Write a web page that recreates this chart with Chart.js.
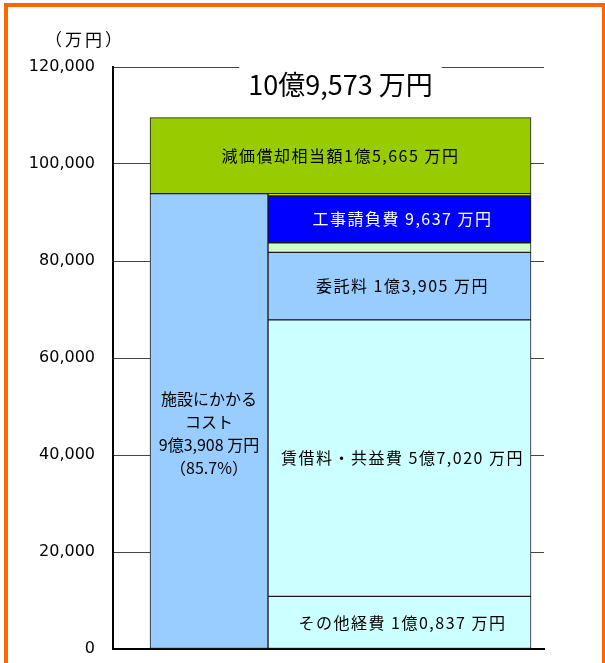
<!DOCTYPE html>
<html>
<head>
<meta charset="utf-8">
<script src="https://cdn.jsdelivr.net/npm/chart.js@4.4.0/dist/chart.umd.min.js"></script>
<style>
  html, body { margin: 0; padding: 0; background: #fff; overflow: hidden; }
  #wrap { position: relative; width: 605px; height: 663px; }
  #frame { position: absolute; left: 4px; top: 3px; width: 601px; height: 700px; box-sizing: border-box;
           border: 4px solid #FF6600; border-right-width: 3px; border-bottom: none; pointer-events: none; }
</style>
</head>
<body>
<div id="wrap">
  <canvas id="costChart" width="605" height="663"></canvas>
  <div id="frame"></div>
</div>
<script>
// 単位：万円
var unitLabel = '（万円）';
var yTicks = [0, 20000, 40000, 60000, 80000, 100000, 120000];

// 施設にかかるコストの内訳（下から順に）
var facilityItems = ['その他経費', '賃借料・共益費', '委託料', '', '工事請負費', ''];
var facilityValues = [10837, 57020, 13905, 2000, 9637, 509];
var facilityTitle = ['施設にかかる', 'コスト'];

var depreciationItem = '減価償却相当額';
var depreciationValue = 15665;

// styles
var itemColors = ['#CCFFFF', '#CCFFFF', '#99CCFF', '#CCFFCC', '#0000FF', '#FFFF00'];
var itemTextColors = ['#000', '#000', '#000', '#000', '#FFF', '#000'];
var jpFont = "'Noto Sans CJK JP', 'Noto Sans', sans-serif";

// column layout, in x-axis units (x axis runs 0..X_MAX)
var X_MAX = 431;
var colLeft = { center: 96, width: 118 };
var colRight = { center: 286.5, width: 263 };
var colFull = { center: 227.5, width: 381 };

function man(v) {
    if (v >= 10000) {
        var r = String(v % 10000).padStart(4, '0');
        return Math.floor(v / 10000) + '億' + r.charAt(0) + ',' + r.slice(1) + ' 万円';
    }
    return v.toLocaleString('en-US') + ' 万円';
}

var facilityTotal = facilityValues.reduce(function (a, b) { return a + b; }, 0);
var grandTotal = facilityTotal + depreciationValue;
var facilityPct = (facilityTotal / grandTotal * 100).toFixed(1);

var datasets = [];
datasets.push({
    data: [{ x: colLeft.center, y: [0, facilityTotal] }],
    backgroundColor: '#99CCFF',
    barThickness: colLeft.width,
    labelLines: facilityTitle.concat([man(facilityTotal), '（' + facilityPct + '%）']),
    textColor: '#000',
    labelShift: 12
});
var cum = 0;
facilityItems.forEach(function (name, i) {
    var v = facilityValues[i];
    datasets.push({
        data: [{ x: colRight.center, y: [cum, cum + v] }],
        backgroundColor: itemColors[i],
        barThickness: colRight.width,
        labelLines: name ? [name + ' ' + man(v)] : null,
        textColor: itemTextColors[i],
        labelDx: 3
    });
    cum += v;
});
datasets.push({
    data: [{ x: colFull.center, y: [facilityTotal, grandTotal] }],
    backgroundColor: '#99CC00',
    barThickness: colFull.width,
    labelLines: [depreciationItem + man(depreciationValue)],
    textColor: '#000'
});

var labelPlugin = {
    id: 'segLabels',
    afterDatasetsDraw: function (chart) {
        var ctx = chart.ctx;
        ctx.save();
        ctx.textAlign = 'center';
        ctx.textBaseline = 'middle';
        chart.data.datasets.forEach(function (ds, i) {
            if (!ds.labelLines) return;
            var bar = chart.getDatasetMeta(i).data[0];
            var p = bar.getProps(['x', 'y', 'base'], true);
            var cy = (p.y + p.base) / 2 + (ds.labelShift || 0);
            var n = ds.labelLines.length;
            ctx.font = '16px ' + jpFont;
            ctx.letterSpacing = n > 1 ? '0px' : '1.5px';
            ctx.fillStyle = ds.textColor;
            ds.labelLines.forEach(function (line, k) {
                ctx.fillText(line, p.x + (ds.labelDx || 0), cy + (k - (n - 1) / 2) * 23);
            });
        });

        // total, sitting on the top grid line
        var yTop = chart.scales.y.getPixelForValue(yTicks[yTicks.length - 1]);
        var cx = chart.scales.x.getPixelForValue(colFull.center);
        var title = man(grandTotal);
        ctx.letterSpacing = '0px';
        ctx.font = '27px ' + jpFont;
        var w = ctx.measureText(title).width;
        ctx.fillStyle = '#FFF';
        ctx.fillRect(cx - w / 2 - 9, yTop - 4, w + 18, 40);
        ctx.fillStyle = '#000';
        ctx.fillText(title, cx, yTop + 18);

        // unit
        ctx.font = '17px ' + jpFont;
        ctx.letterSpacing = '3px';
        ctx.fillText(unitLabel, chart.scales.y.right - 28, chart.chartArea.top - 27);
        ctx.restore();
    }
};

var ctx = document.getElementById('costChart').getContext('2d');
var costChart = new Chart(ctx, {
    type: 'bar',
    data: { datasets: datasets },
    options: {
        responsive: false,
        animation: false,
        devicePixelRatio: 1,
        layout: { padding: { left: 0, top: 67, right: 61, bottom: 14 } },
        datasets: {
            bar: { grouped: false, borderColor: '#1a1a1a', borderWidth: 1, borderSkipped: false }
        },
        plugins: { legend: { display: false }, tooltip: { enabled: false } },
        scales: {
            x: {
                type: 'linear',
                min: 0,
                max: X_MAX,
                offset: false,
                grid: { display: false, drawTicks: false },
                ticks: { display: false },
                border: { display: true, color: '#000', width: 2 },
                afterFit: function (s) { s.height = 0; }
            },
            y: {
                min: 0,
                max: 120000,
                afterBuildTicks: function (s) { s.ticks = yTicks.map(function (v) { return { value: v }; }); },
                grid: { color: '#444', lineWidth: 1, drawTicks: false },
                border: { display: true, color: '#000', width: 2 },
                ticks: {
                    padding: 18,
                    color: '#000',
                    font: { family: "'DejaVu Sans', sans-serif", size: 16 },
                    callback: function (v) { return v.toLocaleString('en-US'); }
                },
                afterFit: function (s) { s.width = 113; s.paddingTop = 0; s.paddingBottom = 0; }
            }
        }
    },
    plugins: [labelPlugin]
});
</script>
</body>
</html>
